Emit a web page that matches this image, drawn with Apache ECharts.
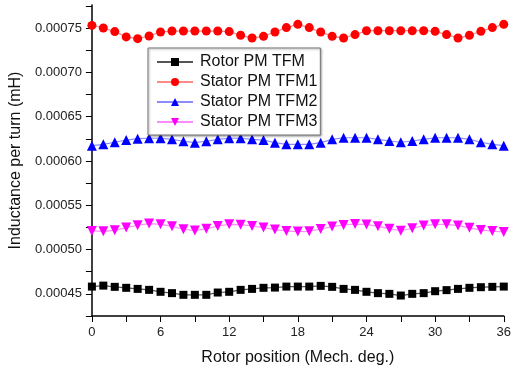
<!DOCTYPE html>
<html>
<head>
<meta charset="utf-8">
<script src="https://cdn.jsdelivr.net/npm/echarts@6/dist/echarts.min.js"></script>
<style>
  html, body { margin: 0; padding: 0; background: #fff; }
  #chart { width: 514px; height: 371px; }
</style>
</head>
<body>
<div id="chart"></div>
<script>
// rotor position, mech. deg.
const positions = [0, 1, 2, 3, 4, 5, 6, 7, 8, 9, 10, 11, 12, 13, 14, 15, 16, 17, 18,
  19, 20, 21, 22, 23, 24, 25, 26, 27, 28, 29, 30, 31, 32, 33, 34, 35, 36]

const rotorTFM = [0.0004582, 0.0004593, 0.0004579, 0.0004568, 0.0004556, 0.0004545, 0.0004523, 0.0004508,
  0.0004489, 0.0004489, 0.0004489, 0.0004515, 0.0004523, 0.0004545, 0.0004556, 0.0004568, 0.0004571,
  0.0004582, 0.0004582, 0.0004582, 0.000459, 0.0004579, 0.0004556, 0.0004545, 0.0004523, 0.0004508,
  0.00045, 0.0004481, 0.00045, 0.0004508, 0.000453, 0.0004542, 0.0004556, 0.0004568, 0.0004575,
  0.0004579, 0.0004582]

const statorTFM1 = [0.000753, 0.00075, 0.000746, 0.00074, 0.000738, 0.000741, 0.0007455, 0.0007466,
  0.0007466, 0.0007466, 0.0007466, 0.0007466, 0.000746, 0.0007418, 0.0007387, 0.0007406, 0.0007455,
  0.0007505, 0.0007542, 0.0007505, 0.0007455, 0.0007406, 0.0007387, 0.0007426, 0.000747, 0.000747,
  0.000747, 0.000747, 0.000747, 0.000747, 0.0007463, 0.0007426, 0.0007387, 0.0007418, 0.0007463,
  0.0007505, 0.0007542]

const statorTFM2 = [0.0006172, 0.0006188, 0.0006211, 0.0006236, 0.0006251, 0.0006256, 0.0006256, 0.0006244,
  0.0006222, 0.0006206, 0.0006222, 0.0006244, 0.0006256, 0.0006256, 0.0006244, 0.0006236, 0.0006206,
  0.0006188, 0.0006188, 0.0006188, 0.0006206, 0.0006244, 0.0006262, 0.0006262, 0.0006262, 0.0006244,
  0.0006225, 0.0006211, 0.0006225, 0.0006244, 0.0006262, 0.0006262, 0.0006262, 0.0006244, 0.0006211,
  0.0006188, 0.0006172]

const statorTFM3 = [0.000521, 0.0005206, 0.0005217, 0.0005248, 0.0005274, 0.0005293, 0.0005285, 0.0005262,
  0.0005229, 0.0005214, 0.0005236, 0.0005266, 0.0005285, 0.0005281, 0.0005266, 0.0005248, 0.0005225,
  0.000521, 0.0005203, 0.0005206, 0.0005232, 0.0005259, 0.0005277, 0.0005288, 0.0005283, 0.0005262,
  0.0005236, 0.0005212, 0.000524, 0.000527, 0.0005285, 0.0005285, 0.000527, 0.0005245, 0.0005222,
  0.0005208, 0.0005198]

const seriesNames = ['Rotor PM TFM', 'Stator PM TFM1', 'Stator PM TFM2', 'Stator PM TFM3']

const font = 'Liberation Sans, Arial, sans-serif'

function pairs(values) {
  return positions.map((p, i) => [p, values[i]])
}

function lineSeries(name, values, color, lineColor, symbol, size, rotate) {
  return {
    name: name,
    type: 'line',
    data: pairs(values),
    symbol: symbol,
    symbolSize: size,
    symbolRotate: rotate || 0,
    showAllSymbol: true,
    lineStyle: { color: lineColor, width: 1.2 },
    itemStyle: { color: color },
    emphasis: { disabled: true },
    z: 3
  }
}

const chart = echarts.init(document.getElementById('chart'))

chart.setOption({
  animation: false,
  backgroundColor: '#fff',
  textStyle: { fontFamily: font },
  grid: { left: 90, right: 7, top: 5, bottom: 55 },
  legend: {
    data: seriesNames,
    orient: 'vertical',
    left: 148,
    top: 48,
    itemWidth: 36,
    itemHeight: 10,
    itemGap: 4,
    padding: [6, 3, 5, 8],
    borderColor: '#777',
    borderWidth: 1,
    backgroundColor: '#fff',
    shadowColor: 'rgba(0,0,0,0.35)',
    shadowBlur: 2,
    shadowOffsetX: 1,
    shadowOffsetY: 1,
    textStyle: { fontFamily: font, fontSize: 16, color: '#111', lineHeight: 16, padding: [0, 0, 0, 2] }
  },
  xAxis: {
    type: 'value',
    min: 0,
    max: 36,
    interval: 3,
    name: 'Rotor position (Mech. deg.)',
    nameLocation: 'middle',
    nameGap: 34,
    nameTextStyle: { fontFamily: font, fontSize: 16, color: '#111' },
    splitLine: { show: false },
    axisLine: { lineStyle: { color: '#000', width: 1.5 } },
    axisTick: { inside: false, length: 6, lineStyle: { color: '#000', width: 1 } },
    axisLabel: {
      margin: 10,
      fontFamily: font,
      fontSize: 13,
      color: '#222',
      formatter: v => (v % 6 === 0 ? String(v) : '')
    }
  },
  yAxis: {
    type: 'value',
    min: 0.000425,
    max: 0.000776,
    interval: 0.000025,
    name: 'Inductance per turn (mH)',
    nameLocation: 'middle',
    nameGap: 62,
    nameTextStyle: { fontFamily: font, fontSize: 16, color: '#111' },
    splitLine: { show: false },
    axisLine: { show: true, lineStyle: { color: '#000', width: 1.5 } },
    axisTick: { show: true, inside: false, length: 6, lineStyle: { color: '#000', width: 1 } },
    axisLabel: {
      margin: 10,
      fontFamily: font,
      fontSize: 13,
      color: '#222',
      showMaxLabel: false,
      formatter: v => (Math.round(v / 0.000025) % 2 === 0 ? v.toFixed(5) : '')
    }
  },
  series: [
    lineSeries(seriesNames[0], rotorTFM, '#000000', '#555555', 'rect', 8),
    lineSeries(seriesNames[1], statorTFM1, '#ff0000', '#ff8a8a', 'circle', 9),
    lineSeries(seriesNames[2], statorTFM2, '#0000ff', '#8c8cff', 'triangle', 10),
    lineSeries(seriesNames[3], statorTFM3, '#ff00ff', '#ff8cff', 'triangle', 10, 180)
  ]
})
</script>
</body>
</html>
